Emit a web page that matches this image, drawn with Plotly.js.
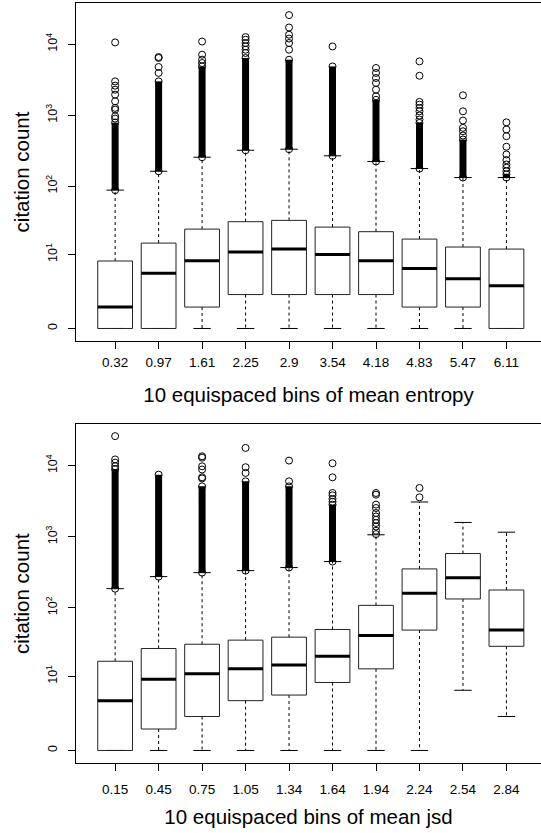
<!DOCTYPE html>
<html>
<head>
<meta charset="utf-8">
<script src="https://cdn.plot.ly/plotly-3.0.1.min.js"></script>
<style>html,body{margin:0;padding:0;background:#fff;}#chart{width:541px;height:833px;}</style>
</head>
<body>
<div id="chart"></div>
<script>
// ---- data: top panel (mean entropy bins), citation counts ----
const entropyBins = ['0.32','0.97','1.61','2.25','2.9','3.54','4.18','4.83','5.47','6.11'];
const entLower  = [0, 0, 0, 0, 0, 0, 0, 0, 0, 0];
const entQ1     = [0, 0, 1, 2, 2, 2, 2, 1, 1, 0];
const entMedian = [1, 5, 8, 10.9, 12.1, 10, 8, 6, 4, 3];
const entQ3     = [7.9, 14.9, 24, 30.8, 32.2, 25.7, 22, 17.1, 13, 12.1];
const entUpper  = [87.5, 162, 256, 321, 332, 268, 223, 177, 132, 132];
// top of the solid run of overlapping outliers
const entDenseTop = [788, 3000, 4870, 6400, 6050, 4870, 1650, 780, 455, 146];
const entOutliers = [
  [10600, 3000, 2610, 2290, 1950, 1570, 1270, 1200, 968, 898],
  [6600, 6400, 4780, 3940],
  [10900, 7120, 6060, 5440],
  [12600, 11560, 10400, 9310, 8370, 7520],
  [25700, 17200, 13600, 12000, 10400, 8370],
  [9300],
  [4630, 3940, 3350, 2850, 2290, 1850],
  [5730, 3600, 1540, 1413, 1270, 1137, 990, 870],
  [1910, 1137, 842, 664, 595, 518],
  [795, 630, 507, 360, 280, 233, 202, 182, 162]
];

// ---- data: bottom panel (mean jsd bins), citation counts ----
const jsdBins = ['0.15','0.45','0.75','1.05','1.34','1.64','1.94','2.24','2.54','2.84'];
const jsdLower  = [0, 0, 0, 0, 0, 0, 0, 0, 6, 2];
const jsdQ1     = [0, 1, 2, 4, 5, 8, 13, 48, 133, 28];
const jsdMedian = [4, 9, 10.9, 13, 14.9, 20, 40, 160, 266, 48];
const jsdQ3     = [16.9, 26, 30, 34.4, 38, 49, 108, 353, 581, 178];
const jsdUpper  = [186, 275, 313, 334, 369, 448, 1066, 3080, 1590, 1160];
const jsdDenseTop = [8900, 7460, 5110, 6010, 5110, 2820, null, null, null, null];
const jsdOutliers = [
  [25900, 12200, 11000, 9800],
  [],
  [13500, 12900, 9770, 8800, 6840, 6600],
  [17700, 9480, 7890],
  [11750, 6010],
  [10760, 6840, 4120, 3820, 3400, 3100],
  [4120, 3900, 2830, 2535, 2157, 1930, 1735, 1560, 1396, 1215, 1090],
  [4850, 3580],
  [],
  []
];

const yTickCounts = [0, 10, 100, 1000, 10000];
const yTickText = ['0', '10<sup>1</sup>', '10<sup>2</sup>', '10<sup>3</sup>', '10<sup>4</sup>'];

// ---- helpers ----
const ly = v => Math.log10(1 + v);
const FONT = 'Liberation Sans, Arial, Helvetica, sans-serif';

function panelTraces(xa, ya, lower, q1, med, q3, upper, denseTop, outliers) {
  const bx = [], by = [], mx = [], my = [], wx = [], wy = [], sx = [], sy = [], dx = [], dy = [], ox = [], oy = [];
  const hw = 0.4, sw = 0.2;
  for (let i = 0; i < q1.length; i++) {
    const c = i + 1;
    bx.push(c - hw, c + hw, c + hw, c - hw, c - hw, null);
    by.push(ly(q1[i]), ly(q1[i]), ly(q3[i]), ly(q3[i]), ly(q1[i]), null);
    mx.push(c - hw, c + hw, null);
    my.push(ly(med[i]), ly(med[i]), null);
    wx.push(c, c, null);
    wy.push(ly(q3[i]), ly(upper[i]), null);
    if (q1[i] > lower[i]) { wx.push(c, c, null); wy.push(ly(q1[i]), ly(lower[i]), null); }
    sx.push(c - sw, c + sw, null, c - sw, c + sw, null);
    sy.push(ly(lower[i]), ly(lower[i]), null, ly(upper[i]), ly(upper[i]), null);
    if (denseTop[i] != null) { dx.push(c, c, null); dy.push(ly(upper[i]), ly(denseTop[i]), null); }
    outliers[i].forEach(v => { ox.push(c); oy.push(ly(v)); });
  }
  const base = {type: 'scatter', xaxis: xa, yaxis: ya, hoverinfo: 'skip', showlegend: false};
  return [
    Object.assign({}, base, {x: wx, y: wy, mode: 'lines', line: {color: '#000', width: 1, dash: '3px,3px'}}),
    Object.assign({}, base, {x: sx, y: sy, mode: 'lines', line: {color: '#000', width: 1}}),
    Object.assign({}, base, {x: bx, y: by, mode: 'lines', line: {color: '#222', width: 1}}),
    Object.assign({}, base, {x: mx, y: my, mode: 'lines', line: {color: '#000', width: 3}}),
    Object.assign({}, base, {x: dx, y: dy, mode: 'lines+markers', line: {color: '#000', width: 7},
      marker: {symbol: 'circle-open', size: 7, color: '#000', line: {width: 1, color: '#000'}}}),
    Object.assign({}, base, {x: ox, y: oy, mode: 'markers',
      marker: {symbol: 'circle-open', size: 7, color: '#000', line: {width: 1, color: '#000'}}})
  ];
}

const traces = [].concat(
  panelTraces('x', 'y', entLower, entQ1, entMedian, entQ3, entUpper, entDenseTop, entOutliers),
  panelTraces('x2', 'y2', jsdLower, jsdQ1, jsdMedian, jsdQ3, jsdUpper, jsdDenseTop, jsdOutliers)
);

const tickvalsX = entropyBins.map((_, i) => i + 1);
const yTickVals = yTickCounts.map(ly);

function xAxis(labels, title, anchor, labelStandoff, titleStandoff) {
  return {
    anchor: anchor, domain: [0, 1], range: [0.1, 10.795],
    tickmode: 'array', tickvals: tickvalsX, ticktext: labels,
    ticks: 'outside', ticklen: 7, tickwidth: 1, tickcolor: '#000',
    ticklabelstandoff: labelStandoff,
    showline: true, mirror: true, linecolor: '#000', linewidth: 1,
    showgrid: false, zeroline: false, fixedrange: true,
    tickfont: {family: FONT, size: 13.5, color: '#000'},
    title: {text: title, font: {family: FONT, size: 20.5, color: '#000'}, standoff: titleStandoff}
  };
}
function yAxis(domain, anchor) {
  return {
    anchor: anchor, domain: domain, range: [-0.176, 4.58],
    tickmode: 'array', tickvals: yTickVals, ticktext: yTickText, tickangle: -90,
    ticks: 'outside', ticklen: 7, tickwidth: 1, tickcolor: '#000',
    ticklabelstandoff: 6,
    showline: true, mirror: false, linecolor: '#000', linewidth: 1,
    showgrid: false, zeroline: false, fixedrange: true,
    tickfont: {family: FONT, size: 12.5, color: '#000'},
    title: {text: 'citation count', font: {family: FONT, size: 20.5, color: '#000'}, standoff: 8}
  };
}

const layout = {
  width: 541, height: 833,
  margin: {l: 76, r: 0, t: 3, b: 70},
  paper_bgcolor: '#fff', plot_bgcolor: '#fff',
  showlegend: false,
  xaxis: xAxis(entropyBins, '10 equispaced bins of mean entropy', 'y', 2, 18),
  yaxis: yAxis([0.5553, 1], 'x'),
  xaxis2: xAxis(jsdBins, '10 equispaced bins of mean jsd', 'y2', 7, 13),
  yaxis2: yAxis([0, 0.4457], 'x2')
};

Plotly.newPlot('chart', traces, layout, {staticPlot: true, displayModeBar: false});
</script>
</body>
</html>
